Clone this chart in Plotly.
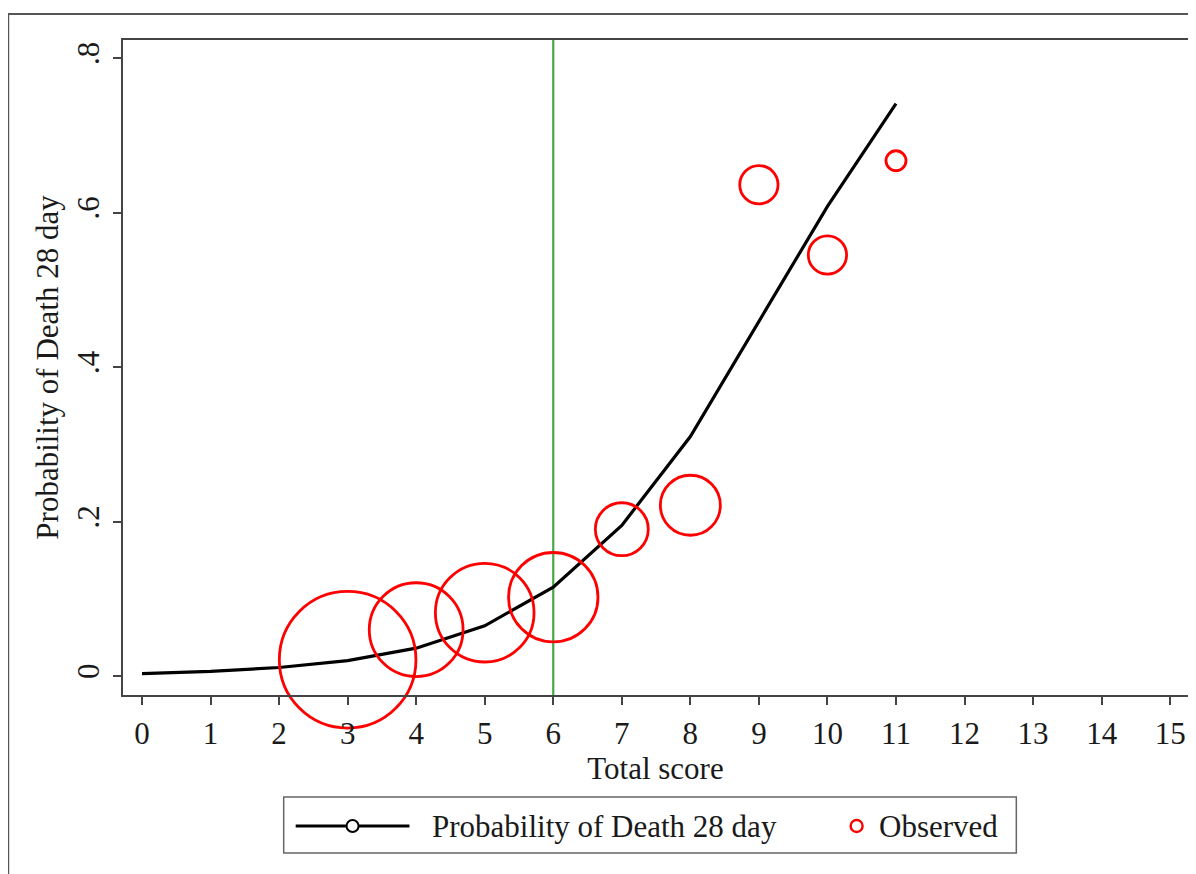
import plotly.graph_objects as go

# ---- data ----
score = [0, 1, 2, 3, 4, 5, 6, 7, 8, 9, 10, 11]
prob_death = [0.003, 0.006, 0.011, 0.020, 0.036, 0.065, 0.115, 0.195, 0.310, 0.458, 0.608, 0.741]

obs_score = [3, 4, 5, 6, 7, 8, 9, 10, 11]
obs_rate = [0.021, 0.060, 0.082, 0.102, 0.190, 0.221, 0.636, 0.545, 0.667]
obs_n = [140, 66, 73, 60, 21, 27, 11, 11, 3]

cutoff = 6
x_ticks = list(range(0, 16))
y_tickvals = [0, 0.2, 0.4, 0.6, 0.8]
y_ticktext = ["0", ".2", ".4", ".6", ".8"]

# ---- layout geometry (page body has an 8px margin) ----
OFF = 8
W, H = 1188, 866
L, R, T, B = 115, 6, 32, 179
PW, PH = W - L - R, H - T - B

def px(x):
    return (x - OFF - L) / PW

def py(y):
    return (OFF + H - B - y) / PH

FONT = "Liberation Serif"
FS = 31
TXT = "#1a1a1a"

fig = go.Figure()

fig.add_trace(go.Scatter(
    x=score, y=prob_death, mode="lines",
    line=dict(color="black", width=3.2),
    name="Probability of Death 28 day", showlegend=False,
))

fig.add_trace(go.Scatter(
    x=obs_score, y=obs_rate, mode="markers", cliponaxis=False,
    marker=dict(symbol="circle-open", size=obs_n, sizemode="area", sizeref=0.015,
                opacity=1, color="#ff0000", line=dict(width=2.8, color="#ff0000")),
    name="Observed", showlegend=False,
))

fig.add_shape(type="line", xref="x", yref="paper", x0=cutoff, x1=cutoff, y0=0, y1=1,
              line=dict(color="#45a845", width=2.2), layer="below")

# outer frame (cropped on right/bottom)
fig.add_shape(type="rect", xref="paper", yref="paper",
              x0=px(8), y0=py(900), x1=px(1230), y1=py(14),
              line=dict(color="#555555", width=2), fillcolor="rgba(0,0,0,0)")

# manual legend
fig.add_shape(type="rect", xref="paper", yref="paper",
              x0=px(284), y0=py(853), x1=px(1018), y1=py(797),
              line=dict(color="#666666", width=1.5), fillcolor="white")
fig.add_shape(type="line", xref="paper", yref="paper",
              x0=px(296), y0=py(826), x1=px(410), y1=py(826),
              line=dict(color="black", width=3))
fig.add_shape(type="circle", xref="paper", yref="paper",
              x0=px(347), y0=py(832), x1=px(359), y1=py(820),
              line=dict(color="black", width=2), fillcolor="white")
fig.add_shape(type="circle", xref="paper", yref="paper",
              x0=px(852), y0=py(832), x1=px(864), y1=py(820),
              line=dict(color="#ff0000", width=2.4), fillcolor="white")
fig.add_annotation(xref="paper", yref="paper", x=px(431), y=py(826),
                   text="Probability of Death 28 day", showarrow=False,
                   xanchor="left", yanchor="middle",
                   font=dict(family=FONT, size=FS, color=TXT))
fig.add_annotation(xref="paper", yref="paper", x=px(878), y=py(826),
                   text="Observed", showarrow=False,
                   xanchor="left", yanchor="middle",
                   font=dict(family=FONT, size=FS, color=TXT))

fig.update_layout(
    width=W, height=H,
    margin=dict(l=L, r=R, t=T, b=B, pad=0),
    paper_bgcolor="white", plot_bgcolor="white",
    showlegend=False,
    font=dict(family=FONT, size=FS, color=TXT),
)

fig.update_xaxes(
    range=[-0.277, 15.26], tickvals=x_ticks, ticktext=[str(v) for v in x_ticks],
    showgrid=False, zeroline=False,
    showline=True, linecolor="#444444", linewidth=2, mirror=True,
    ticks="outside", ticklen=8, tickwidth=1.5, tickcolor="#444444",
    ticklabelstandoff=2,
    title=dict(text="Total score", standoff=0, font=dict(family=FONT, size=FS, color=TXT)),
    tickfont=dict(family=FONT, size=FS, color=TXT),
)
fig.update_yaxes(
    range=[-0.0246, 0.8233], tickvals=y_tickvals, ticktext=y_ticktext,
    tickangle=-90,
    showgrid=False, zeroline=False,
    showline=True, linecolor="#444444", linewidth=2, mirror=True,
    ticks="outside", ticklen=8, tickwidth=1.5, tickcolor="#444444",
    ticklabelstandoff=2,
    title=dict(text="Probability of Death 28 day", standoff=3, font=dict(family=FONT, size=FS, color=TXT)),
    tickfont=dict(family=FONT, size=FS, color=TXT),
)

fig.write_html("out.html")
